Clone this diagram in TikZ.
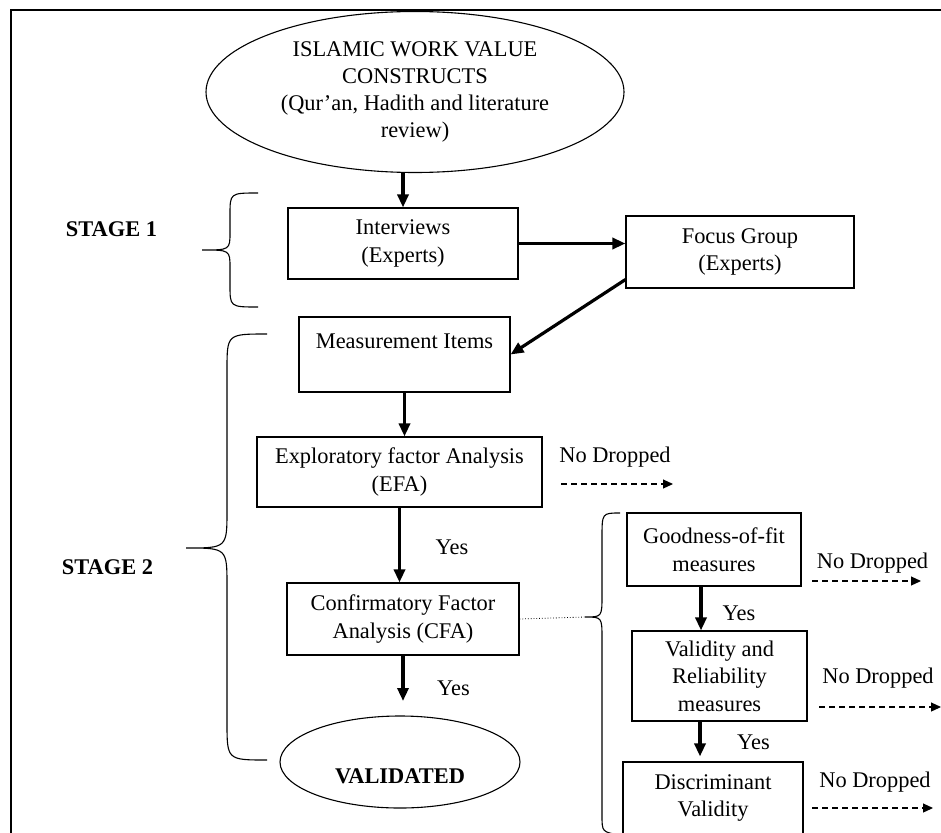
\documentclass[tikz,border=0pt]{standalone}
\usepackage{fontspec}
\setmainfont{Liberation Serif}
\usetikzlibrary{arrows.meta,shapes.geometric}
\tikzset{
  boxnode/.style={draw,line width=1.1pt,rectangle,inner sep=0pt,align=center,font=\fontsize{22.4}{27.5}\selectfont},
  ellnode/.style={draw,line width=1.1pt,ellipse,inner sep=0pt,align=center,font=\fontsize{22.4}{27}\selectfont},
  txt/.style={inner sep=0pt,align=center,font=\fontsize{22.4}{27}\selectfont},
  boldtxt/.style={inner sep=0pt,font=\fontsize{22.4}{27}\selectfont\bfseries},
  thickarrow/.style={line width=3.2pt,-{Triangle[length=13pt,width=11pt]}},
  dasharrow/.style={line width=1.1pt,dash pattern=on 6pt off 4pt,-{Triangle[length=10pt,width=9pt]}},
  bracepath/.style={line width=1.1pt},
  dotline/.style={line width=0.8pt,dotted}
}
\begin{document}
\begin{tikzpicture}[x=1pt,y=-1pt]
\useasboundingbox (0,0) rectangle (941,832);
\clip (0,0) rectangle (941,832);
\fill[white] (0,0) rectangle (941,832);
% frame
\draw[line width=1.1pt] (941,10) -- (11,10) -- (11,840);

% nodes
\node[ellnode,minimum width=418pt,minimum height=161pt] (isl) at (415,92)
  {ISLAMIC WORK VALUE\\CONSTRUCTS\\(Qur'an, Hadith and literature\\review)};
\node[boxnode,minimum width=230pt,minimum height=71pt] (intv) at (403,243.5) {Interviews\\(Experts)};
\node[boxnode,minimum width=228pt,minimum height=72pt] (focus) at (740,252) {Focus Group\\(Experts)};
\node[boxnode,minimum width=211pt,minimum height=75pt] (meas) at (404.5,354.5) {};
\node[txt] (meastxt) at (404.5,341) {Measurement Items};
\node[boxnode,minimum width=285pt,minimum height=70pt] (efa) at (399.5,472) {Exploratory factor Analysis\\(EFA)};
\node[boxnode,minimum width=232pt,minimum height=72pt] (cfa) at (403,619) {Confirmatory Factor\\Analysis (CFA)};
\node[ellnode,minimum width=240pt,minimum height=92pt] (valid) at (400,762) {};
\node[boldtxt] (validtxt) at (400,776) {VALIDATED};

\node[boxnode,minimum width=174pt,minimum height=73pt] (good) at (714,549.5) {Goodness-of-fit\\measures};
\node[boxnode,minimum width=175pt,minimum height=90pt] (vr) at (719.5,676) {Validity and\\Reliability\\measures};
\node[boxnode,minimum width=180pt,minimum height=72pt] (disc) at (713,798) {Discriminant\\Validity};

% stage labels
\node[boldtxt] (st1) at (111.5,229) {STAGE 1};
\node[boldtxt] (st2) at (107.5,567) {STAGE 2};

% yes labels
\node[txt] (yes1) at (452,547) {Yes};
\node[txt] (yes2) at (453.5,688) {Yes};
\node[txt] (yes3) at (739,613) {Yes};
\node[txt] (yes4) at (753.5,742) {Yes};

% no dropped labels
\node[txt] (nd1) at (615,457) {No Dropped};
\node[txt] (nd2) at (872.5,563) {No Dropped};
\node[txt] (nd3) at (878,678) {No Dropped};
\node[txt] (nd4) at (875,782) {No Dropped};

% coordinates for free ends
\coordinate (d1s) at (561,484); \coordinate (d1e) at (673,484);
\coordinate (d2s) at (812,581); \coordinate (d2e) at (921,581);
\coordinate (d3s) at (819,707); \coordinate (d3e) at (941,707);
\coordinate (d4s) at (812,808); \coordinate (d4e) at (933,808);
\coordinate (validtop) at (400,701);
\coordinate (bracetip) at (585,617);

% connectors
\draw[thickarrow] (intv.north |- isl.south) -- (intv.north);
\draw[thickarrow] (intv.east) -- (intv.east -| focus.west);
\draw[thickarrow] ([yshift=9pt]focus.south west) -- (meas.east);
\draw[thickarrow] (meas.south) -- (meas.south |- efa.north);
\draw[thickarrow] (efa.south) -- (efa.south |- cfa.north);
\draw[thickarrow] (cfa.south) -- (cfa.south |- validtop);
\draw[thickarrow] ([xshift=-13pt]good.south) -- ([xshift=-13pt]good.south |- vr.north);
\draw[thickarrow] ([xshift=-19.5pt]vr.south) -- ([xshift=-19.5pt,yshift=5pt]vr.south |- disc.north);

\draw[dasharrow] (d1s) -- (d1e);
\draw[dasharrow] (d2s) -- (d2e);
\draw[dasharrow] (d3s) -- (d3e);
\draw[dasharrow] (d4s) -- (d4e);

\draw[dotline] (cfa.east) -- (bracetip);

% braces
\draw[bracepath] (258,193) .. controls (230,193) .. (230,215) -- (230,232)
  .. controls (230,250) .. (202,250) .. controls (230,250) .. (230,268)
  -- (230,285) .. controls (230,307) .. (258,307);
\draw[bracepath] (267,334) .. controls (227,334) .. (227,370) -- (227,510)
  .. controls (227,548) .. (186,548) .. controls (227,548) .. (227,586)
  -- (227,722) .. controls (227,760) .. (267,760);
\draw[bracepath] (620,513) .. controls (602,513) .. (602,538) -- (602,595)
  .. controls (602,617) .. (585,617) .. controls (602,617) .. (602,639)
  -- (602,815) .. controls (602,832) .. (620,835);
\end{tikzpicture}
\end{document}
